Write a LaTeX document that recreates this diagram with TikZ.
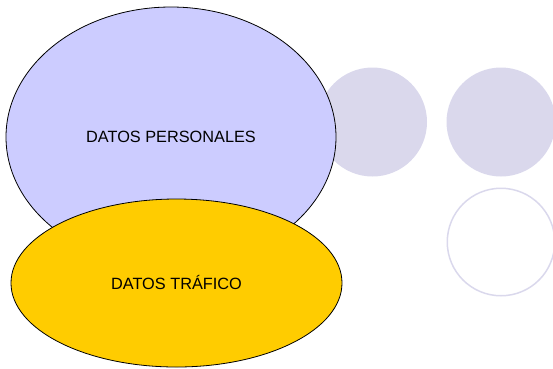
\documentclass[tikz,border=0pt]{standalone}
\usepackage{fontspec}
\setmainfont{Liberation Sans}
\usetikzlibrary{positioning, shapes.geometric}

\definecolor{lavender}{RGB}{204,204,255}
\definecolor{palelilac}{RGB}{218,216,236}
\definecolor{amber}{RGB}{255,204,0}

\begin{document}
\begin{tikzpicture}[
    x=1pt, y=-1pt,
    datos/.style={
        draw,
        ellipse,
        inner sep=0pt,
        line width=0.8pt,
        align=center,
        font=\fontsize{16.3}{19}\selectfont
    },
    personal/.style={
        datos,
        minimum width=330pt,
        minimum height=260pt,
        fill=lavender
    },
    trafico/.style={
        datos,
        minimum width=331pt,
        minimum height=168pt,
        fill=amber
    },
    dot/.style={
        circle,
        inner sep=0pt,
        minimum size=109pt
    },
    fulldot/.style={dot, fill=palelilac},
    emptydot/.style={dot, draw=palelilac, line width=1.5pt, minimum size=107.5pt}
]
\useasboundingbox (0,0) rectangle (553,368);

% Decorative circles - behind everything
\node[fulldot] (dot1) at (372.5,122) {};
\node[fulldot] (dot2) at (501,122) {};
\node[emptydot] (dot3) at (501,242) {};

% Data sets - stacked, traffic over personal
\node[personal] (personal) at (171,137) {DATOS PERSONALES};
\node[trafico] (trafico) at (176.5,283) {DATOS TRÁFICO};

\end{tikzpicture}
\end{document}
